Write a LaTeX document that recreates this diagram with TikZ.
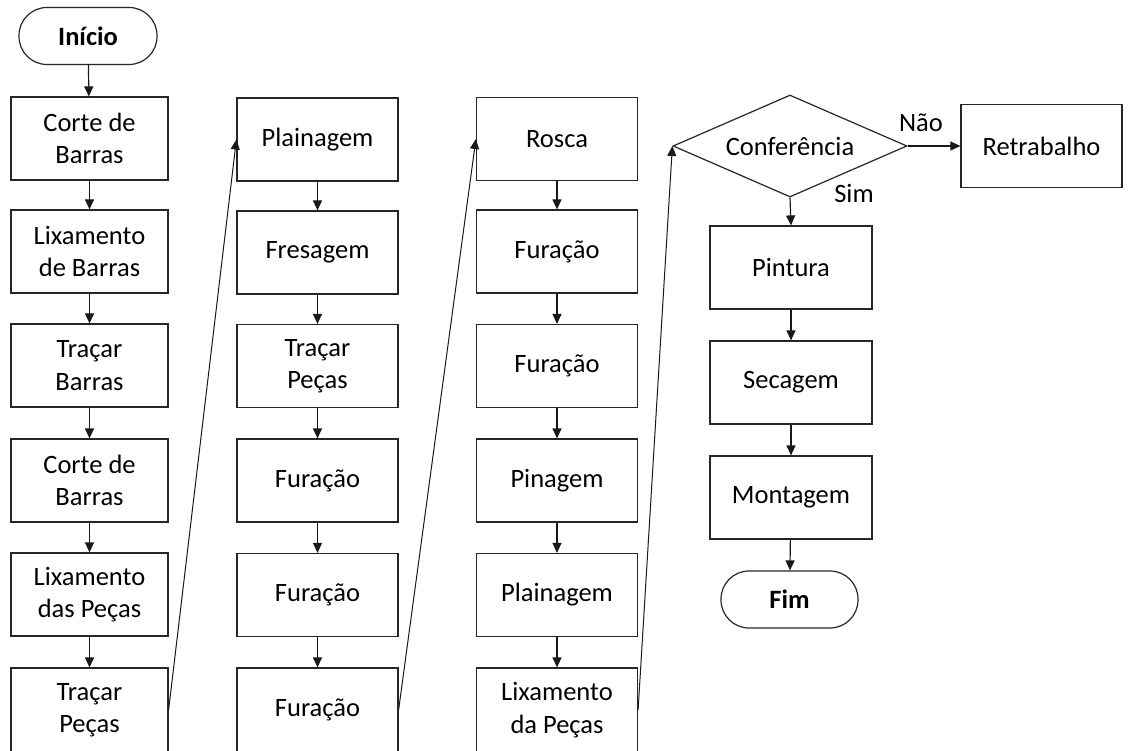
\documentclass[tikz,border=0pt]{standalone}
\usepackage{fontspec}
\setmainfont{Carlito}
\usetikzlibrary{arrows.meta,shapes.geometric}

\tikzset{
  every node/.style={font=\fontsize{26.5}{32.5}\selectfont, text=black},
  stepbox/.style={draw=black!85, line width=1.2pt, rectangle, align=center,
    minimum width=#1, minimum height=83pt, inner sep=0pt},
  stepbox/.default=161pt,
  terminal/.style={draw=black!85, line width=1.2pt, rectangle, rounded corners=28pt,
    minimum width=138pt, minimum height=57pt, inner sep=0pt,
    font=\fontsize{26.5}{32.5}\selectfont\bfseries},
  decision/.style={draw=black!85, line width=1.2pt, diamond, aspect=2.3,
    minimum width=234pt, minimum height=102pt, inner sep=0pt},
  flow/.style={line width=1.2pt, draw=black!90, -{Triangle[length=10pt,width=9pt]}},
  link/.style={line width=1pt, draw=black!90, -{Triangle[length=10pt,width=9pt]}},
  lbl/.style={inner sep=0pt}
}

\begin{document}
\begin{tikzpicture}[x=1pt,y=-1pt]
  \clip (0,0) rectangle (1130,751);
  \fill[white] (0,0) rectangle (1130,751);

  % start
  \node[terminal] (inicio) at (88,36) {Início};

  % column 1
  \node[stepbox=157pt] (a1) at (89.5,138.5) {Corte de\\Barras};
  \node[stepbox=157pt] (a2) at (89.5,251.5) {Lixamento\\de Barras};
  \node[stepbox=157pt] (a3) at (89.5,365.5) {Traçar\\Barras};
  \node[stepbox=157pt] (a4) at (89.5,480.5) {Corte de\\Barras};
  \node[stepbox=157pt] (a5) at (89.5,594.5) {Lixamento\\das Peças};
  \node[stepbox=157pt, minimum height=84pt] (a6) at (89.5,710) {Traçar\\Peças};

  % column 2
  \node[stepbox] (b1) at (317.5,139.5) {Plainagem};
  \node[stepbox] (b2) at (317.5,252.5) {Fresagem};
  \node[stepbox] (b3) at (317.5,366) {Traçar\\Peças};
  \node[stepbox] (b4) at (317.5,480.5) {Furação};
  \node[stepbox] (b5) at (317.5,595) {Furação};
  \node[stepbox, minimum height=84pt] (b6) at (317.5,710) {Furação};

  % column 3
  \node[stepbox] (c1) at (557,139) {Rosca};
  \node[stepbox] (c2) at (557,251.5) {Furação};
  \node[stepbox] (c3) at (557,366) {Furação};
  \node[stepbox] (c4) at (557,480.5) {Pinagem};
  \node[stepbox] (c5) at (557,595) {Plainagem};
  \node[stepbox, minimum height=84pt] (c6) at (557,710) {Lixamento\\da Peças};

  % column 4
  \node[decision] (conf) at (790,146) {Conferência};
  \node[stepbox] (retr) at (1041.5,146) {Retrabalho};
  \node[stepbox=162pt] (d1) at (791,267.5) {Pintura};
  \node[stepbox=162pt] (d2) at (791,382.5) {Secagem};
  \node[stepbox=162pt] (d3) at (791,497.5) {Montagem};
  \node[terminal, minimum width=137pt] (fim) at (789.5,599.5) {Fim};

  % labels of the decision
  \node[lbl] (nao) at (921,123) {Não};
  \node[lbl] (sim) at (854,193) {Sim};

  % vertical flow
  \draw[flow] (inicio) -- (a1);
  \draw[flow] (a1) -- (a2);
  \draw[flow] (a2) -- (a3);
  \draw[flow] (a3) -- (a4);
  \draw[flow] (a4) -- (a5);
  \draw[flow] (a5) -- (a6);

  \draw[flow] (b1) -- (b2);
  \draw[flow] (b2) -- (b3);
  \draw[flow] (b3) -- (b4);
  \draw[flow] (b4) -- (b5);
  \draw[flow] (b5) -- (b6);

  \draw[flow] (c1) -- (c2);
  \draw[flow] (c2) -- (c3);
  \draw[flow] (c3) -- (c4);
  \draw[flow] (c4) -- (c5);
  \draw[flow] (c5) -- (c6);

  \draw[flow] (conf.south) -- (d1.north);
  \draw[flow] (conf.east) -- (retr.west);
  \draw[flow] (d1) -- (d2);
  \draw[flow] (d2) -- (d3);
  \draw[flow] (d3) -- (fim);

  % links between columns
  \draw[link] (a6.east) -- (b1.west);
  \draw[link] (b6.east) -- (c1.west);
  \draw[link] (c6.east) -- (conf.west);
\end{tikzpicture}
\end{document}
